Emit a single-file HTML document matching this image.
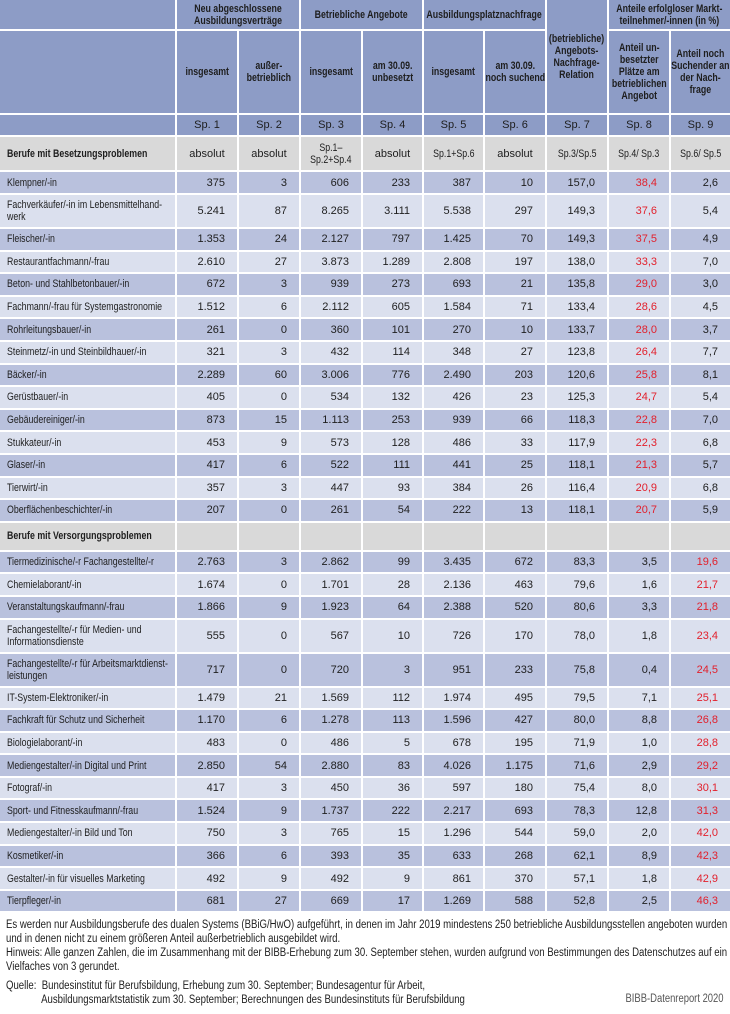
<!DOCTYPE html>
<html><head><meta charset="utf-8"><style>
html,body{margin:0;padding:0;background:#fff;width:730px;height:1014px;overflow:hidden;position:relative}
body{font-family:"Liberation Sans",sans-serif;color:#1e1e1e;font-size:11px}
table{border-collapse:separate;border-spacing:0;table-layout:fixed;width:730px;position:absolute;left:0;top:0}
td{padding:0 12px 0 0;border-right:2px solid #fff;border-bottom:2px solid #fff;text-align:right;vertical-align:middle;line-height:12px;overflow:hidden;white-space:nowrap}
td:last-child{border-right:none}
td.l{text-align:left;padding-left:7px;padding-right:0}
td.l span{display:inline-block;transform:scaleX(.8);transform-origin:left center}
.h td{background:#8d9cc6;text-align:center;padding:0;font-weight:bold}
.h td span,.s td span.c{display:inline-block;transform:scaleX(.8);transform-origin:center center;margin:0 -60px}
.s td{background:#d9d9d9;text-align:center;padding:0}
.s td.l{text-align:left;font-weight:bold;padding-left:7px}
.d td{background:#b9c1dd}
.w td{background:#dbe0ee}
.r{color:#e2202c}
.n{position:absolute;left:6px;font-size:11.5px;line-height:14px;white-space:nowrap;transform:scaleX(.835);transform-origin:left top}
.src{position:absolute;right:6px;top:993px;font-size:11.5px;color:#555;transform:scaleX(.82);transform-origin:right top;white-space:nowrap}
</style></head><body>
<table>
<colgroup><col style="width:177px"><col style="width:62px"><col style="width:62px"><col style="width:62px"><col style="width:61px"><col style="width:61px"><col style="width:62px"><col style="width:62px"><col style="width:62px"><col style="width:59px"></colgroup>
<tr class="h" style="height:31px"><td></td><td colspan="2"><span>Neu abgeschlossene<br>Ausbildungsverträge</span></td><td colspan="2"><span>Betriebliche Angebote</span></td><td colspan="2"><span>Ausbildungsplatznachfrage</span></td><td rowspan="2"><span>(betriebliche)<br>Angebots-<br>Nachfrage-<br>Relation</span></td><td colspan="2"><span>Anteile erfolgloser Markt-<br>teilnehmer/-innen (in %)</span></td></tr>
<tr class="h" style="height:84px"><td></td><td><span>insgesamt</span></td><td><span>außer-<br>betrieblich</span></td><td><span>insgesamt</span></td><td><span>am 30.09.<br>unbesetzt</span></td><td><span>insgesamt</span></td><td><span>am 30.09.<br>noch suchend</span></td><td><span>Anteil un-<br>besetzter<br>Plätze am<br>betrieblichen<br>Angebot</span></td><td><span>Anteil noch<br>Suchender an<br>der Nach-<br>frage</span></td></tr>
<tr class="h" style="height:22px"><td></td><td style="font-weight:normal">Sp. 1</td><td style="font-weight:normal">Sp. 2</td><td style="font-weight:normal">Sp. 3</td><td style="font-weight:normal">Sp. 4</td><td style="font-weight:normal">Sp. 5</td><td style="font-weight:normal">Sp. 6</td><td style="font-weight:normal">Sp. 7</td><td style="font-weight:normal">Sp. 8</td><td style="font-weight:normal">Sp. 9</td></tr>
<tr class="s" style="height:35px"><td class="l"><span>Berufe mit Besetzungsproblemen</span></td><td>absolut</td><td>absolut</td><td><span class="c">Sp.1–<br>Sp.2+Sp.4</span></td><td>absolut</td><td><span class="c">Sp.1+Sp.6</span></td><td>absolut</td><td><span class="c">Sp.3/Sp.5</span></td><td><span class="c">Sp.4/ Sp.3</span></td><td><span class="c">Sp.6/ Sp.5</span></td></tr>
<tr class="d" style="height:23px"><td class="l"><span>Klempner/-in</span></td><td>375</td><td>3</td><td>606</td><td>233</td><td>387</td><td>10</td><td>157,0</td><td class="r">38,4</td><td>2,6</td></tr>
<tr class="w" style="height:34px"><td class="l"><span>Fachverkäufer/-in im Lebensmittelhand-<br>werk</span></td><td>5.241</td><td>87</td><td>8.265</td><td>3.111</td><td>5.538</td><td>297</td><td>149,3</td><td class="r">37,6</td><td>5,4</td></tr>
<tr class="d" style="height:22.6px"><td class="l"><span>Fleischer/-in</span></td><td>1.353</td><td>24</td><td>2.127</td><td>797</td><td>1.425</td><td>70</td><td>149,3</td><td class="r">37,5</td><td>4,9</td></tr>
<tr class="w" style="height:22.6px"><td class="l"><span>Restaurantfachmann/-frau</span></td><td>2.610</td><td>27</td><td>3.873</td><td>1.289</td><td>2.808</td><td>197</td><td>138,0</td><td class="r">33,3</td><td>7,0</td></tr>
<tr class="d" style="height:22.6px"><td class="l"><span>Beton- und Stahlbetonbauer/-in</span></td><td>672</td><td>3</td><td>939</td><td>273</td><td>693</td><td>21</td><td>135,8</td><td class="r">29,0</td><td>3,0</td></tr>
<tr class="w" style="height:22.6px"><td class="l"><span>Fachmann/-frau für Systemgastronomie</span></td><td>1.512</td><td>6</td><td>2.112</td><td>605</td><td>1.584</td><td>71</td><td>133,4</td><td class="r">28,6</td><td>4,5</td></tr>
<tr class="d" style="height:22.6px"><td class="l"><span>Rohrleitungsbauer/-in</span></td><td>261</td><td>0</td><td>360</td><td>101</td><td>270</td><td>10</td><td>133,7</td><td class="r">28,0</td><td>3,7</td></tr>
<tr class="w" style="height:22.6px"><td class="l"><span>Steinmetz/-in und Steinbildhauer/-in</span></td><td>321</td><td>3</td><td>432</td><td>114</td><td>348</td><td>27</td><td>123,8</td><td class="r">26,4</td><td>7,7</td></tr>
<tr class="d" style="height:22.6px"><td class="l"><span>Bäcker/-in</span></td><td>2.289</td><td>60</td><td>3.006</td><td>776</td><td>2.490</td><td>203</td><td>120,6</td><td class="r">25,8</td><td>8,1</td></tr>
<tr class="w" style="height:22.6px"><td class="l"><span>Gerüstbauer/-in</span></td><td>405</td><td>0</td><td>534</td><td>132</td><td>426</td><td>23</td><td>125,3</td><td class="r">24,7</td><td>5,4</td></tr>
<tr class="d" style="height:22.6px"><td class="l"><span>Gebäudereiniger/-in</span></td><td>873</td><td>15</td><td>1.113</td><td>253</td><td>939</td><td>66</td><td>118,3</td><td class="r">22,8</td><td>7,0</td></tr>
<tr class="w" style="height:22.6px"><td class="l"><span>Stukkateur/-in</span></td><td>453</td><td>9</td><td>573</td><td>128</td><td>486</td><td>33</td><td>117,9</td><td class="r">22,3</td><td>6,8</td></tr>
<tr class="d" style="height:22.6px"><td class="l"><span>Glaser/-in</span></td><td>417</td><td>6</td><td>522</td><td>111</td><td>441</td><td>25</td><td>118,1</td><td class="r">21,3</td><td>5,7</td></tr>
<tr class="w" style="height:22.6px"><td class="l"><span>Tierwirt/-in</span></td><td>357</td><td>3</td><td>447</td><td>93</td><td>384</td><td>26</td><td>116,4</td><td class="r">20,9</td><td>6,8</td></tr>
<tr class="d" style="height:22.6px"><td class="l"><span>Oberflächenbeschichter/-in</span></td><td>207</td><td>0</td><td>261</td><td>54</td><td>222</td><td>13</td><td>118,1</td><td class="r">20,7</td><td>5,9</td></tr>
<tr class="s" style="height:29px"><td class="l"><span>Berufe mit Versorgungsproblemen</span></td><td></td><td></td><td></td><td></td><td></td><td></td><td></td><td></td><td></td></tr>
<tr class="d" style="height:22.6px"><td class="l"><span>Tiermedizinische/-r Fachangestellte/-r</span></td><td>2.763</td><td>3</td><td>2.862</td><td>99</td><td>3.435</td><td>672</td><td>83,3</td><td>3,5</td><td class="r">19,6</td></tr>
<tr class="w" style="height:22.6px"><td class="l"><span>Chemielaborant/-in</span></td><td>1.674</td><td>0</td><td>1.701</td><td>28</td><td>2.136</td><td>463</td><td>79,6</td><td>1,6</td><td class="r">21,7</td></tr>
<tr class="d" style="height:22.6px"><td class="l"><span>Veranstaltungskaufmann/-frau</span></td><td>1.866</td><td>9</td><td>1.923</td><td>64</td><td>2.388</td><td>520</td><td>80,6</td><td>3,3</td><td class="r">21,8</td></tr>
<tr class="w" style="height:34px"><td class="l"><span>Fachangestellte/-r für Medien- und<br>Informationsdienste</span></td><td>555</td><td>0</td><td>567</td><td>10</td><td>726</td><td>170</td><td>78,0</td><td>1,8</td><td class="r">23,4</td></tr>
<tr class="d" style="height:34px"><td class="l"><span>Fachangestellte/-r für Arbeitsmarktdienst-<br>leistungen</span></td><td>717</td><td>0</td><td>720</td><td>3</td><td>951</td><td>233</td><td>75,8</td><td>0,4</td><td class="r">24,5</td></tr>
<tr class="w" style="height:22.6px"><td class="l"><span>IT-System-Elektroniker/-in</span></td><td>1.479</td><td>21</td><td>1.569</td><td>112</td><td>1.974</td><td>495</td><td>79,5</td><td>7,1</td><td class="r">25,1</td></tr>
<tr class="d" style="height:22.6px"><td class="l"><span>Fachkraft für Schutz und Sicherheit</span></td><td>1.170</td><td>6</td><td>1.278</td><td>113</td><td>1.596</td><td>427</td><td>80,0</td><td>8,8</td><td class="r">26,8</td></tr>
<tr class="w" style="height:22.6px"><td class="l"><span>Biologielaborant/-in</span></td><td>483</td><td>0</td><td>486</td><td>5</td><td>678</td><td>195</td><td>71,9</td><td>1,0</td><td class="r">28,8</td></tr>
<tr class="d" style="height:22.6px"><td class="l"><span>Mediengestalter/-in Digital und Print</span></td><td>2.850</td><td>54</td><td>2.880</td><td>83</td><td>4.026</td><td>1.175</td><td>71,6</td><td>2,9</td><td class="r">29,2</td></tr>
<tr class="w" style="height:22.6px"><td class="l"><span>Fotograf/-in</span></td><td>417</td><td>3</td><td>450</td><td>36</td><td>597</td><td>180</td><td>75,4</td><td>8,0</td><td class="r">30,1</td></tr>
<tr class="d" style="height:22.6px"><td class="l"><span>Sport- und Fitnesskaufmann/-frau</span></td><td>1.524</td><td>9</td><td>1.737</td><td>222</td><td>2.217</td><td>693</td><td>78,3</td><td>12,8</td><td class="r">31,3</td></tr>
<tr class="w" style="height:22.6px"><td class="l"><span>Mediengestalter/-in Bild und Ton</span></td><td>750</td><td>3</td><td>765</td><td>15</td><td>1.296</td><td>544</td><td>59,0</td><td>2,0</td><td class="r">42,0</td></tr>
<tr class="d" style="height:22.6px"><td class="l"><span>Kosmetiker/-in</span></td><td>366</td><td>6</td><td>393</td><td>35</td><td>633</td><td>268</td><td>62,1</td><td>8,9</td><td class="r">42,3</td></tr>
<tr class="w" style="height:22.6px"><td class="l"><span>Gestalter/-in für visuelles Marketing</span></td><td>492</td><td>9</td><td>492</td><td>9</td><td>861</td><td>370</td><td>57,1</td><td>1,8</td><td class="r">42,9</td></tr>
<tr class="d" style="height:22.6px"><td class="l"><span>Tierpfleger/-in</span></td><td>681</td><td>27</td><td>669</td><td>17</td><td>1.269</td><td>588</td><td>52,8</td><td>2,5</td><td class="r">46,3</td></tr>
</table>
<div class="n" style="top:918px">Es werden nur Ausbildungsberufe des dualen Systems (BBiG/HwO) aufgeführt, in denen im Jahr 2019 mindestens 250 betriebliche Ausbildungsstellen angeboten wurden<br>und in denen nicht zu einem größeren Anteil außerbetrieblich ausgebildet wird.<br>Hinweis: Alle ganzen Zahlen, die im Zusammenhang mit der BIBB-Erhebung zum 30. September stehen, wurden aufgrund von Bestimmungen des Datenschutzes auf ein<br>Vielfaches von 3 gerundet.</div>
<div class="n" style="top:979px">Quelle:&nbsp; Bundesinstitut für Berufsbildung, Erhebung zum 30. September; Bundesagentur für Arbeit,<br><span style="padding-left:42px">Ausbildungsmarktstatistik zum 30. September; Berechnungen des Bundesinstituts für Berufsbildung</span></div>
<div class="src">BIBB-Datenreport 2020</div>
</body></html>
